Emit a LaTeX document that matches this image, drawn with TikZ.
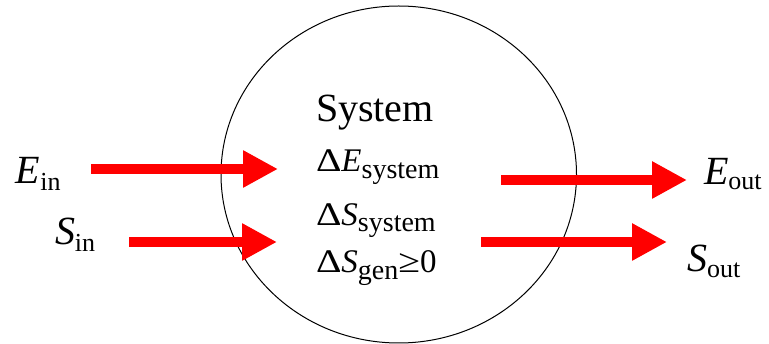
\documentclass[tikz,border=0pt]{standalone}
\usepackage{graphicx}
\usepackage{fontspec}
\setmainfont{Liberation Serif}
\usetikzlibrary{arrows.meta,shapes.geometric}
\newcommand{\bigsz}{\fontsize{40}{44}\selectfont}
\newcommand{\midsz}{\fontsize{33}{36}\selectfont}
\newcommand{\lowtxt}[3]{\raisebox{-#2pt}{\fontsize{#3}{#3}\selectfont #1}}
\newcommand{\wDelta}{\scalebox{1.2}[1]{Δ}}
\tikzset{
  flow/.style={draw=red, line width=9.5pt, -{Triangle[length=35pt,width=35pt]}},
  lbl/.style={anchor=base west, inner sep=0pt, outer sep=0pt},
  sysbox/.style={draw=black, line width=1pt, ellipse, inner sep=0pt,
    minimum width=355.5pt, minimum height=337pt},
}
\begin{document}
\begin{tikzpicture}[x=1pt,y=-1pt]
\useasboundingbox (0,0) rectangle (769,344);
\node[sysbox] (sys) at (398.75,174.5) {};
% connector end points
\coordinate (ein0) at (91,169);   \coordinate (ein1) at (278,169);
\coordinate (sin0) at (129,242);  \coordinate (sin1) at (277,242);
\coordinate (eout0) at (501,180); \coordinate (eout1) at (687,180);
\coordinate (sout0) at (481,242); \coordinate (sout1) at (667,242);
\draw[flow] (ein0) -- (ein1);
\draw[flow] (sin0) -- (sin1);
\draw[flow] (eout0) -- (eout1);
\draw[flow] (sout0) -- (sout1);
% outside labels
\node[lbl] (Ein) at (16,184) {\bigsz\textit{E}\lowtxt{in}{7}{26}};
\node[lbl] (Sin) at (55,245) {\bigsz\textit{S}\lowtxt{in}{7}{26}};
\node[lbl] (Eout) at (704,185) {\bigsz\textit{E}\lowtxt{out}{5}{26}};
\node[lbl] (Sout) at (687,271.5) {\bigsz\textit{S}\lowtxt{out}{6}{26}};
% system text
\node[lbl] (title) at (316,122) {\bigsz System};
\node[lbl] (dE) at (316,172) {\midsz\wDelta\textit{E}\lowtxt{system}{7}{28}};
\node[lbl] (dS) at (316,225.5) {\midsz\wDelta\textit{S}\lowtxt{system}{6}{28}};
\node[lbl] (dSg) at (316,272.5) {\midsz\wDelta\textit{S}\lowtxt{gen}{7}{28}\scalebox{1.2}[1]{≥}0};
\end{tikzpicture}
\end{document}
